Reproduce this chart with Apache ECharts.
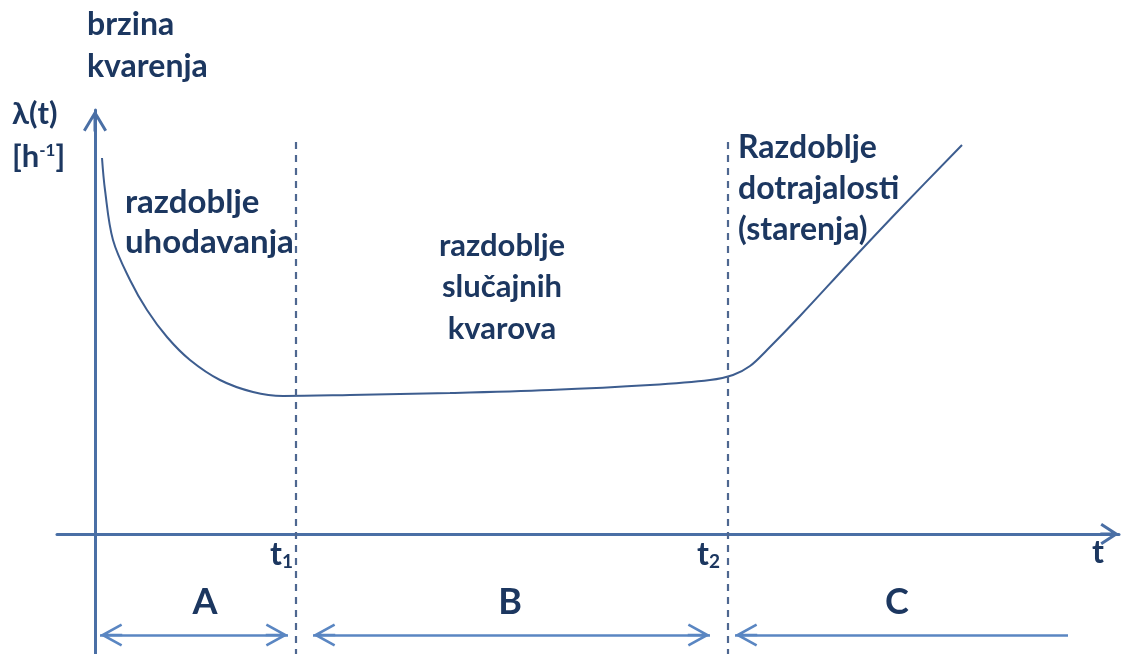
<!DOCTYPE html>
<html>
<head>
<meta charset="utf-8">
<script src="https://cdn.jsdelivr.net/npm/echarts@6/dist/echarts.min.js"></script>
<style>
  html, body { margin: 0; padding: 0; background: #fff; }
  #chart { width: 1121px; height: 654px; }
</style>
</head>
<body>
<div id="chart"></div>
<script>
// axes ranges (arbitrary units: t in time units, lambda in 1/h)
const tMin = -3.8, tMax = 102.4;
const lMin = -1.2, lMax = 4.24;
const t1 = 20.1, t2 = 63.3;

// bathtub curve
const curveT = [0.7, 1.0, 1.8, 3.5, 5.2, 7.2, 9.5, 12.5, 15.8, 18.8, 25.5, 35.5, 45.5, 55.5, 61.5, 63.8, 65.5, 67.2, 70.5, 75.5, 80.5, 86.7];
const curveL = [3.76, 3.44, 2.94, 2.54, 2.24, 1.97, 1.74, 1.54, 1.42, 1.38, 1.39, 1.41, 1.44, 1.49, 1.54, 1.59, 1.68, 1.84, 2.18, 2.72, 3.25, 3.89];

// period arrows under the axis (A, B, C)
const periodNames = ['A', 'B', 'C'];
const periodFrom = [0.5, 21.8, 64.0];
const periodTo = [19.3, 61.5, 97.3];
const periodToArrow = [true, true, false];
const periodY = -1.01;
const dashTop = 3.92;

const textColor = '#1c3760';
const axisColor = '#4a6fa5';
const font = 'Lato, "DejaVu Sans", sans-serif';

// open arrow head pointing up, with a short stem so the line reaches the tip
function chevron(w, h, t) {
  const c = w / 2;
  const L = Math.hypot(w / 2, h);
  const s = (t * L / 2 + h * t) / (w / 2);
  const yj = (w / 2) * t / L + s * h / L;
  const yb = h + (w / 2) * t / L;
  const pts = [
    [c, 0], [w, h], [w - h * t / L, yb], [c + t / 2, yj], [c + t / 2, yb],
    [c - t / 2, yb], [c - t / 2, yj], [h * t / L, yb], [0, h]
  ];
  const d = 'path://M' + pts.map(p => p[0].toFixed(2) + ',' + p[1].toFixed(2)).join(' L') + ' Z';
  return { path: d, size: [w, yb] };
}

const axisArrowX = chevron(22, 17, 3);
const axisArrowY = chevron(24, 20, 3);
const periodArrow = chevron(23, 21, 2.6);

const curveData = curveT.map((t, i) => [t, curveL[i]]);

const periodLines = periodNames.map((n, i) => [
  { coord: [periodFrom[i], periodY], symbol: periodArrow.path, symbolSize: periodArrow.size, symbolOffset: [0, periodArrow.size[1] / 2] },
  { coord: [periodTo[i], periodY], symbol: periodToArrow[i] ? periodArrow.path : 'none', symbolSize: periodArrow.size, symbolOffset: [0, periodArrow.size[1] / 2] }
]);

const dashLines = [t1, t2].map(t => [
  { coord: [t, dashTop], symbol: 'none' },
  { coord: [t, lMin], symbol: 'none' }
]);

// text placed by its first baseline
function label(text, x, baseline, fs, lh, align, rich) {
  return {
    type: 'text',
    x: x,
    y: baseline - 0.37 * fs - lh / 2,
    style: {
      text: text,
      font: 'bold ' + fs + 'px ' + font,
      fill: textColor,
      align: align || 'left',
      verticalAlign: 'top',
      lineHeight: lh,
      rich: rich
    }
  };
}

const base = { fontWeight: 'bold', fontFamily: font, fill: textColor };
const sub = Object.assign({ fontSize: 19, padding: [13, 0, 0, 0] }, base);
const sup = Object.assign({ fontSize: 17, padding: [0, 0, 13, 0] }, base);

const chart = echarts.init(document.getElementById('chart'));

chart.setOption({
  animation: false,
  backgroundColor: '#fff',
  grid: { left: 57, right: 2, top: 110, bottom: 0 },
  xAxis: {
    type: 'value', min: tMin, max: tMax,
    axisLine: {
      onZero: true,
      symbol: ['none', axisArrowX.path],
      symbolSize: axisArrowX.size,
      symbolOffset: [0, -axisArrowX.size[1] / 2],
      lineStyle: { color: axisColor, width: 3 }
    },
    axisTick: { show: false }, axisLabel: { show: false }, splitLine: { show: false }
  },
  yAxis: {
    type: 'value', min: lMin, max: lMax,
    axisLine: {
      show: true,
      onZero: true,
      symbol: ['none', axisArrowY.path],
      symbolSize: axisArrowY.size,
      symbolOffset: [0, -axisArrowY.size[1] / 2],
      lineStyle: { color: axisColor, width: 3 }
    },
    axisTick: { show: false }, axisLabel: { show: false }, splitLine: { show: false }
  },
  series: [
    {
      type: 'line',
      data: curveData,
      smooth: 0.35,
      showSymbol: false,
      lineStyle: { color: '#3d5d8f', width: 2 },
      z: 3
    },
    {
      type: 'line',
      data: [],
      markLine: {
        silent: true,
        label: { show: false },
        lineStyle: { color: '#4e6790', width: 2.2, type: [7, 6] },
        data: dashLines
      }
    },
    {
      type: 'line',
      data: [],
      markLine: {
        silent: true,
        label: { show: false },
        lineStyle: { color: '#5a86c2', width: 2.6, type: 'solid' },
        data: periodLines
      }
    }
  ],
  graphic: [
    label('brzina\nkvarenja', 87, 37, 32, 42),
    label('λ(t)', 12, 125, 31, 30),
    label('[h{sup|-1}]', 12, 168, 31, 30, 'left', { sup: sup }),
    label('razdoblje\nuhodavanja', 125, 215, 33, 40),
    label('razdoblje\nslučajnih\nkvarova', 502, 257, 31, 41.5, 'center'),
    label('Razdoblje\ndotrajalosti\n(starenja)', 738, 160, 32, 41),
    label('{b|t}{s|1}', 270, 567, 32, 30, 'left', { b: Object.assign({ fontSize: 32 }, base), s: sub }),
    label('{b|t}{s|2}', 697, 567, 32, 30, 'left', { b: Object.assign({ fontSize: 32 }, base), s: sub }),
    label('t', 1092, 565, 32, 30),
    label(periodNames[0], 205, 616, 36, 40, 'center'),
    label(periodNames[1], 510, 616, 36, 40, 'center'),
    label(periodNames[2], 897, 616, 36, 40, 'center')
  ]
});
</script>
</body>
</html>
